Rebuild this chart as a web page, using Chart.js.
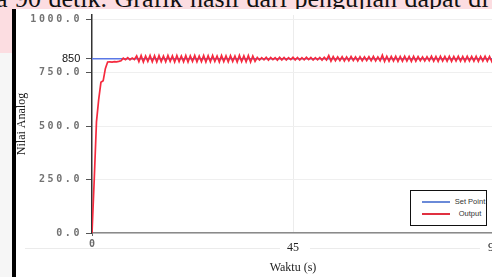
<!DOCTYPE html>
<html>
<head>
<meta charset="utf-8">
<script src="https://cdn.jsdelivr.net/npm/chart.js@4.4.1/dist/chart.umd.min.js"></script>
<style>
  html, body { margin: 0; padding: 0; }
  body { width: 492px; height: 277px; overflow: hidden; position: relative; background: #fcdde1; }
  #teks { position: absolute; left: -4px; top: -14px; font: 26px/26px "Liberation Serif", serif; color: #111; white-space: nowrap; word-spacing: 1px; }
  #kiri { position: absolute; left: 0; top: 53px; width: 12px; height: 224px; background: #f6f6f6; }
  #garis { position: absolute; left: 12px; top: 9px; width: 4px; height: 268px; background: #000; }
  #kertas { position: absolute; left: 16px; top: 9px; width: 476px; height: 268px; background: #fff; }
  .samar { position: absolute; top: 248px; height: 1px; background: #ebebeb; }
  #grafik { position: absolute; left: 16px; top: 9px; display: block; }
  #legenda { position: absolute; left: 410px; top: 190px; width: 75px; height: 34px; border: 1.5px solid #111; background: #fff; }
  .baris { position: absolute; left: 0; width: 75px; height: 10px; }
  .baris span.garis { position: absolute; left: 11px; top: 4px; width: 28px; height: 2px; }
  .baris span.teks { position: absolute; left: 42px; width: 34px; top: 0; text-align: center; font: 7.5px/10px "Liberation Sans", Arial, sans-serif; color: #333; }
</style>
</head>
<body>
<div id="teks">a 90 detik. Grafik hasil dari pengujian dapat di</div>
<div id="kiri"></div>
<div id="garis"></div>
<div id="kertas"></div>
<div class="samar" style="left:25px;width:255px"></div>
<div class="samar" style="left:310px;width:170px"></div>
<canvas id="grafik" width="484" height="268"></canvas>
<div id="legenda">
  <div class="baris" style="top:6px"><span class="garis" style="background:#6a8ad8"></span><span class="teks">Set Point</span></div>
  <div class="baris" style="top:18px"><span class="garis" style="background:#e03040"></span><span class="teks">Output</span></div>
</div>
<script>
// data hasil pengujian, sampling tiap 0.5 detik
const waktuStep = 0.5;
const setPoint = 815;
const setPointLabel = '850';
const output = [
    0, 250, 520, 625, 705, 712, 770, 800, 801, 800, 802, 801, 803, 806,
    818, 811, 820, 810, 819, 812,
    829, 802, 830, 800, 828, 803, 831, 801, 829, 800,
    830, 802, 828, 801, 831, 803, 829, 800, 830, 802,
    828, 801, 830, 800, 829, 803, 831, 801, 828, 802,
    830, 800, 829, 801, 831, 803, 828, 800, 830, 802,
    829, 801, 830, 803, 828, 800, 831, 802, 829, 801,
    830, 800, 828, 803,
    821, 809, 820, 810, 822, 809, 821, 811, 820, 809, 822, 810, 821, 809, 820, 811,
    822, 810, 821, 809, 820, 810, 822, 811, 821, 809, 820, 810, 821, 809, 822, 810,
    830, 804,
    825, 806, 824, 807, 825, 805, 824, 806, 826, 807, 824, 805, 825, 806, 824, 807,
    825, 806, 826, 805, 824, 806,
    832, 803, 827, 804, 826, 805, 827, 803, 826, 804,
    827, 805, 826, 803, 827, 804, 825, 806, 824, 805,
    825, 806, 827, 804, 826, 803, 827, 805, 826, 804,
    827, 803, 826, 805, 827, 804, 826, 803, 827, 805,
    826, 804, 827, 803, 826, 805, 827, 804, 826, 803,
    825
];
const waktuAkhir = 90;
const yTicks = [0, 250, 500, 750, 1000];
const yTickLabels = ['0.0', '250.0', '500.0', '750.0', '1000.0'];
const xTicksAwal = [0];
const xTicks = [45, 90];
const xTickLabels = ['45', '90'];

const dataOutput = output.map((v, i) => ({x: i * waktuStep, y: v}));
const dataSetPoint = [{x: 0, y: setPoint}, {x: waktuAkhir, y: setPoint}];

// label sumbu y pakai jarak huruf yang lebar
const jarakHuruf = {
    id: 'jarakHuruf',
    afterDatasetsDraw(chart) { chart.ctx.letterSpacing = '2.6px'; },
    afterDraw(chart) { chart.ctx.letterSpacing = '0px'; }
};

const ctx = document.getElementById('grafik').getContext('2d');
const grafik = new Chart(ctx, {
    type: 'line',
    data: {
        datasets: [{
            label: 'Set Point',
            data: dataSetPoint,
            borderColor: '#5a78e6',
            borderWidth: 1.5,
            pointRadius: 0,
            order: 2
        }, {
            label: 'Output',
            data: dataOutput,
            borderColor: '#f52a3e',
            borderWidth: 1.7,
            pointRadius: 0,
            tension: 0,
            order: 1
        }]
    },
    options: {
        responsive: false,
        animation: false,
        events: [],
        layout: { padding: { top: 6, right: 6, left: 0, bottom: 0 } },
        plugins: { legend: { display: false }, tooltip: { enabled: false } },
        scales: {
            x: {
                type: 'linear', position: 'bottom', min: 0, max: waktuAkhir, weight: 0,
                afterBuildTicks: s => { s.ticks = xTicksAwal.map(v => ({value: v})); },
                afterFit: s => { s.height = 4; s.paddingLeft = 0; s.paddingRight = 0; },
                grid: { drawOnChartArea: false, tickLength: 3, tickColor: '#666' },
                border: { color: '#8a8a8a', width: 1.5 },
                ticks: {
                    autoSkip: false, maxRotation: 0, padding: -17, mirror: true, color: '#6a6a6a',
                    font: { family: 'DejaVu Sans Mono', size: 10, weight: 'bold' },
                    callback: v => String(v)
                }
            },
            x2: {
                type: 'linear', position: 'bottom', min: 0, max: waktuAkhir, weight: 1,
                afterBuildTicks: s => { s.ticks = xTicks.map(v => ({value: v})); },
                afterFit: s => { s.height = 40; s.paddingLeft = 0; s.paddingRight = 0; },
                grid: { drawOnChartArea: true, drawTicks: false, color: '#ececec' },
                border: { display: false },
                ticks: {
                    autoSkip: false, maxRotation: 0, padding: -18, mirror: true, color: '#222',
                    font: { family: 'Liberation Serif', size: 12 },
                    callback: v => xTickLabels[xTicks.indexOf(v)]
                },
                title: {
                    display: true, text: 'Waktu (s)', color: '#222',
                    font: { family: 'Liberation Serif', size: 12 },
                    padding: { top: 0, bottom: 2 }
                }
            },
            y: {
                position: 'left', min: 0, max: 1020, weight: 1,
                afterBuildTicks: s => { s.ticks = yTicks.map(v => ({value: v})); },
                afterFit: s => { s.width = 76; s.paddingTop = 0; s.paddingBottom = 0; },
                grid: { color: '#efefef', tickLength: 6, tickColor: '#555' },
                border: { color: '#333', width: 1.5 },
                ticks: {
                    z: 1, padding: 4, color: '#727272',
                    font: { family: 'DejaVu Sans Mono', size: 10, weight: 'bold' },
                    callback: v => yTickLabels[yTicks.indexOf(v)]
                },
                title: {
                    display: true, text: 'Nilai Analog', color: '#222',
                    font: { family: 'Liberation Serif', size: 12, lineHeight: 1 },
                    padding: 0
                }
            },
            y2: {
                position: 'left', min: 0, max: 1020, weight: 0,
                afterBuildTicks: s => { s.ticks = [{value: setPoint}]; },
                afterFit: s => { s.width = 0; s.paddingTop = 0; s.paddingBottom = 0; },
                grid: { drawOnChartArea: false, tickLength: 6, tickColor: '#555' },
                border: { display: false },
                ticks: {
                    mirror: true, crossAlign: 'near', padding: -30, color: '#111',
                    font: { family: 'Liberation Sans', size: 11 },
                    callback: () => setPointLabel
                }
            }
        }
    },
    plugins: [jarakHuruf]
});
</script>
</body>
</html>
